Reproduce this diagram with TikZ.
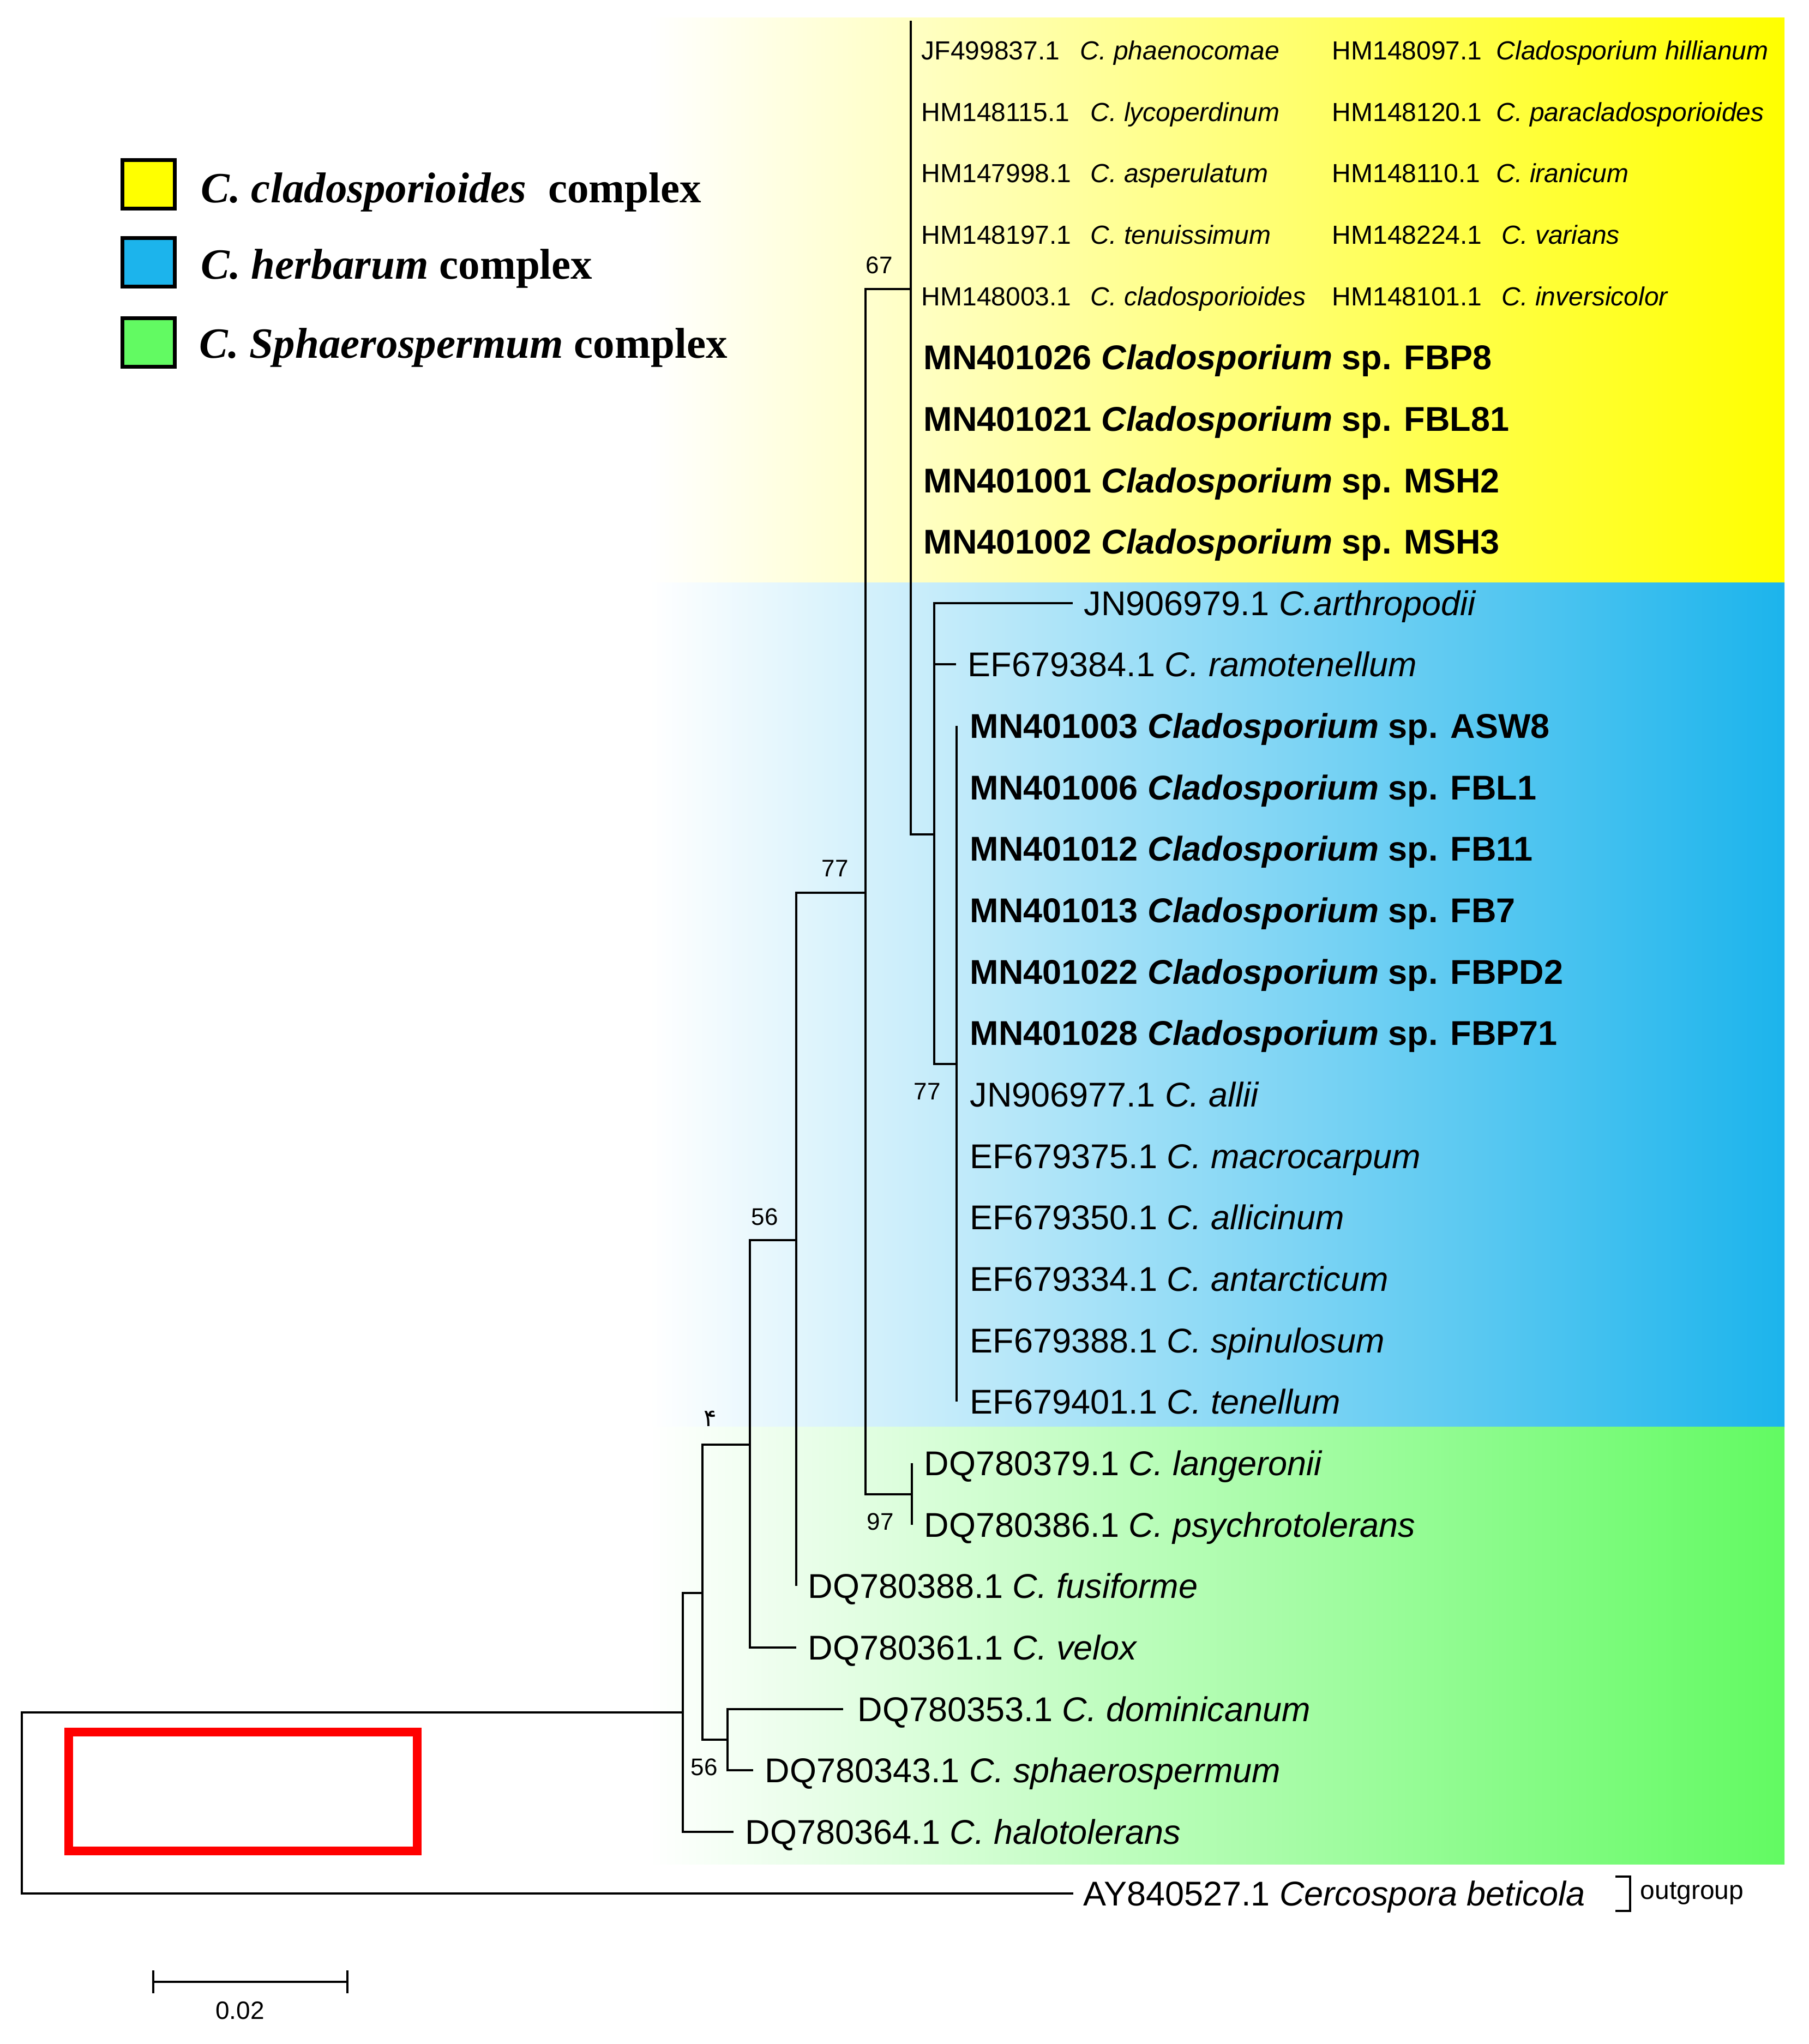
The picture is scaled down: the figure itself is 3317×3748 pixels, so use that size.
\documentclass[tikz,border=0pt]{standalone}
\usepackage{fontspec}
\setmainfont{Liberation Sans}
\newfontfamily\legfont{Liberation Serif}
\newfontfamily\arabicfont[Script=Arabic]{DejaVu Sans}
\TeXXeTstate=1
\definecolor{cyel}{RGB}{255,255,0}
\definecolor{cblu}{RGB}{28,180,236}
\definecolor{cgrn}{RGB}{98,250,98}
\begin{document}
\begin{tikzpicture}[x=0.25pt,y=-0.25pt,
 br/.style={line width=1pt, line join=miter},
 reg/.style={anchor=base west, inner sep=0pt, font=\fontsize{15.75}{18}\selectfont},
 sml/.style={anchor=base west, inner sep=0pt, font=\fontsize{12}{14}\selectfont},
 bsv/.style={anchor=center, inner sep=0pt, font=\fontsize{11}{13}\selectfont},
 legbox/.style={draw=black, line width=1.75pt, minimum width=24pt, minimum height=22.25pt, inner sep=0pt},
 legtxt/.style={anchor=base west, inner sep=0pt, font=\legfont\fontsize{19.75}{22}\selectfont}]
\useasboundingbox (0,0) rectangle (3317,3748);
\fill[white] (0,0) rectangle (3317,3748);
% colour bands
\shade[left color=white, right color=cyel] (1190,32) rectangle (3272,1068);
\shade[left color=white, right color=cblu] (1190,1068) rectangle (3272,2616);
\shade[left color=white, right color=cgrn] (1190,2616) rectangle (3272,3418);
% legend
\node[legbox, fill=cyel] (lb1) at (272,338) {};
\node[legbox, fill=cblu] (lb2) at (272,481) {};
\node[legbox, fill=cgrn] (lb3) at (272,628) {};
\node[legtxt] (lg1) at (368,371) {\textbf{\textit{C. cladosporioides}}\ \ \textbf{complex}};
\node[legtxt] (lg2) at (368,511) {\textbf{\textit{C. herbarum}} \textbf{complex}};
\node[legtxt] (lg3) at (365,656) {\textbf{\textit{C. Sphaerospermum}} \textbf{complex}};
% tree nodes
\coordinate (R) at (40,3306);
\coordinate (A) at (1252,3140);
\coordinate (B) at (1288,2921);
\coordinate (C) at (1334,3190);
\coordinate (D) at (1375,2649);
\coordinate (E) at (1460,2274);
\coordinate (F) at (1587,1637);
\coordinate (G) at (1672,2740);
\coordinate (H) at (1670,530);
\coordinate (Htop) at (1670,38);
\coordinate (I) at (1713,1530);
\coordinate (J) at (1754,1951);
% tips
\coordinate (t10) at (1967,1106);
\coordinate (t11) at (1753,1218);
\coordinate (t12) at (1754,1331);
\coordinate (t23) at (1754,2570);
\coordinate (t24) at (1672,2683);
\coordinate (t25) at (1672,2796);
\coordinate (t26) at (1460,2908);
\coordinate (t27) at (1460,3021);
\coordinate (t28) at (1546,3134);
\coordinate (t29) at (1381,3246);
\coordinate (t30) at (1345,3359);
\coordinate (t31) at (1968,3472);
% branches
\draw[br] (R) |- (A);
\draw[br] (R) |- (t31);
\draw[br] (A) |- (B);
\draw[br] (A) |- (t30);
\draw[br] (B) |- (D);
\draw[br] (B) |- (C);
\draw[br] (C) |- (t28);
\draw[br] (C) |- (t29);
\draw[br] (D) |- (E);
\draw[br] (D) |- (t27);
\draw[br] (E) |- (F);
\draw[br] (E) |- (t26);
\draw[br] (F) |- (H);
\draw[br] (F) |- (G);
\draw[br] (G) |- (t24);
\draw[br] (G) |- (t25);
\draw[br] (H) -- (Htop);
\draw[br] (H) |- (I);
\draw[br] (I) |- (t10);
\draw[br] (I) |- (t11);
\draw[br] (I) |- (J);
\draw[br] (J) |- (t12);
\draw[br] (J) |- (t23);
% support values
\node[bsv] (s67) at (1612,486) {67};
\node[bsv] (s77a) at (1531,1592) {77};
\node[bsv] (s77b) at (1700,2001) {77};
\node[bsv] (s56a) at (1402,2231) {56};
\node[bsv] (s97) at (1614,2790) {97};
\node[bsv] (s56b) at (1291,3240) {56};
\node[bsv] (s4) at (1302,2601) {\arabicfont ۴};
% yellow small rows
\node[sml] (a1) at (1689,109) {JF499837.1};
\node[sml] (n1) at (1980,109) {\textit{C. phaenocomae}};
\node[sml] (a2) at (1689,222) {HM148115.1};
\node[sml] (n2) at (1999,222) {\textit{C. lycoperdinum}};
\node[sml] (a3) at (1689,334) {HM147998.1};
\node[sml] (n3) at (1999,334) {\textit{C. asperulatum}};
\node[sml] (a4) at (1689,447) {HM148197.1};
\node[sml] (n4) at (1999,447) {\textit{C. tenuissimum}};
\node[sml] (a5) at (1689,560) {HM148003.1};
\node[sml] (n5) at (1999,560) {\textit{C. cladosporioides}};
\node[sml] (b1) at (2442,109) {HM148097.1};
\node[sml] (m1) at (2743,109) {\textit{Cladosporium hillianum}};
\node[sml] (b2) at (2442,222) {HM148120.1};
\node[sml] (m2) at (2743,222) {\textit{C. paracladosporioides}};
\node[sml] (b3) at (2442,334) {HM148110.1};
\node[sml] (m3) at (2743,334) {\textit{C. iranicum}};
\node[sml] (b4) at (2442,447) {HM148224.1};
\node[sml] (m4) at (2753,447) {\textit{C. varians}};
\node[sml] (b5) at (2442,560) {HM148101.1};
\node[sml] (m5) at (2753,560) {\textit{C. inversicolor}};
% bold yellow rows
\node[reg] (l6) at (1693,677) {\textbf{MN401026 \textit{Cladosporium} sp. FBP8}};
\node[reg] (l7) at (1693,790) {\textbf{MN401021 \textit{Cladosporium} sp. FBL81}};
\node[reg] (l8) at (1693,903) {\textbf{MN401001 \textit{Cladosporium} sp. MSH2}};
\node[reg] (l9) at (1693,1015) {\textbf{MN401002 \textit{Cladosporium} sp. MSH3}};
% blue rows
\node[reg] (l10) at (1987,1128) {JN906979.1 \textit{C.arthropodii}};
\node[reg] (l11) at (1774,1240) {EF679384.1 \textit{C. ramotenellum}};
\node[reg] (l12) at (1778,1353) {\textbf{MN401003 \textit{Cladosporium} sp. ASW8}};
\node[reg] (l13) at (1778,1466) {\textbf{MN401006 \textit{Cladosporium} sp. FBL1}};
\node[reg] (l14) at (1778,1578) {\textbf{MN401012 \textit{Cladosporium} sp. FB11}};
\node[reg] (l15) at (1778,1691) {\textbf{MN401013 \textit{Cladosporium} sp. FB7}};
\node[reg] (l16) at (1778,1804) {\textbf{MN401022 \textit{Cladosporium} sp. FBPD2}};
\node[reg] (l17) at (1778,1916) {\textbf{MN401028 \textit{Cladosporium} sp. FBP71}};
\node[reg] (l18) at (1778,2029) {JN906977.1 \textit{C. allii}};
\node[reg] (l19) at (1778,2142) {EF679375.1 \textit{C. macrocarpum}};
\node[reg] (l20) at (1778,2254) {EF679350.1 \textit{C. allicinum}};
\node[reg] (l21) at (1778,2367) {EF679334.1 \textit{C. antarcticum}};
\node[reg] (l22) at (1778,2480) {EF679388.1 \textit{C. spinulosum}};
\node[reg] (l23) at (1778,2592) {EF679401.1 \textit{C. tenellum}};
% green rows
\node[reg] (l24) at (1694,2705) {DQ780379.1 \textit{C. langeronii}};
\node[reg] (l25) at (1694,2818) {DQ780386.1 \textit{C. psychrotolerans}};
\node[reg] (l26) at (1481,2930) {DQ780388.1 \textit{C. fusiforme}};
\node[reg] (l27) at (1481,3043) {DQ780361.1 \textit{C. velox}};
\node[reg] (l28) at (1572,3156) {DQ780353.1 \textit{C. dominicanum}};
\node[reg] (l29) at (1402,3268) {DQ780343.1 \textit{C. sphaerospermum}};
\node[reg] (l30) at (1366,3381) {DQ780364.1 \textit{C. halotolerans}};
% outgroup
\node[reg] (l31) at (1986,3494) {AY840527.1 \textit{Cercospora beticola}};
\coordinate (bk1) at (2962,3441);
\coordinate (bk2) at (2989,3441);
\coordinate (bk3) at (2989,3504);
\coordinate (bk4) at (2962,3504);
\draw[br] (bk1) -- (bk2) -- (bk3) -- (bk4);
\node[sml] (og) at (3007,3482) {outgroup};
% red box
\draw[red, line width=4pt] (126,3176) rectangle (765,3394);
% scale bar
\coordinate (sbL) at (281,3634);
\coordinate (sbR) at (637,3634);
\draw[br] (sbL) -- (sbR);
\draw[br] ([yshift=5.25pt]sbL) -- ([yshift=-5.25pt]sbL);
\draw[br] ([yshift=5.25pt]sbR) -- ([yshift=-5.25pt]sbR);
\node[bsv, font=\fontsize{11.5}{13}\selectfont] (sbt) at (440,3687) {0.02};
\end{tikzpicture}
\end{document}
